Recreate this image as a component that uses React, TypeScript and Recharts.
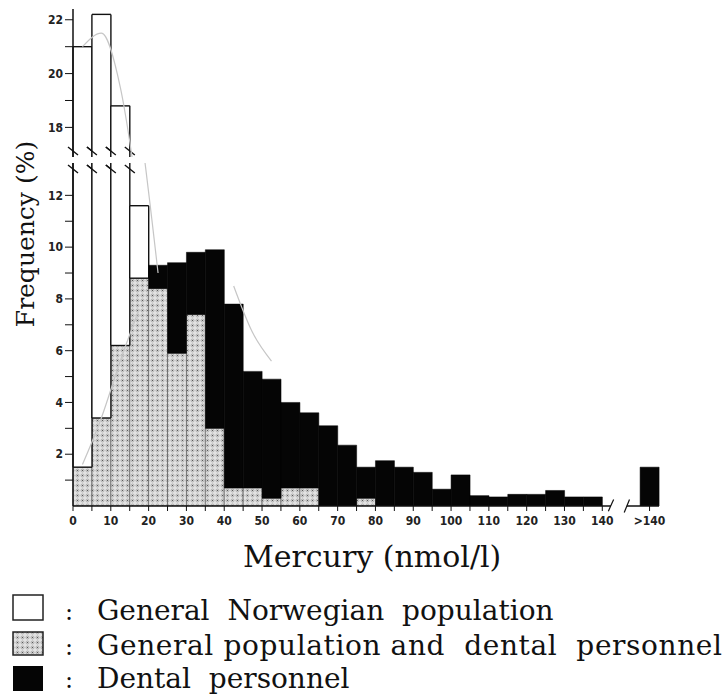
import { Bar, ComposedChart, Line, ReferenceLine, XAxis, YAxis } from 'recharts';

// bin centres (nmol/l), 5-wide bins from 0 to 140, then the ">140" bin
const binMid = [
  2.5, 7.5, 12.5, 17.5, 22.5, 27.5, 32.5, 37.5, 42.5, 47.5, 52.5, 57.5, 62.5, 67.5, 72.5,
  77.5, 82.5, 87.5, 92.5, 97.5, 102.5, 107.5, 112.5, 117.5, 122.5, 127.5, 132.5, 137.5, 152.5,
];

// frequency (%) per bin
const generalPop = [
  21.0, 22.2, 18.8, 11.6, 8.4, 5.9, 7.4, 3.0, 0.7, 0.7, 0.3, 0.7, 0.7, 0, 0,
  0.3, 0, 0, 0, 0, 0, 0, 0, 0, 0, 0, 0, 0, 0,
];
const dentalStaff = [
  1.5, 3.4, 6.2, 8.8, 9.3, 9.4, 9.8, 9.9, 7.8, 5.2, 4.9, 4.0, 3.6, 3.1, 2.35,
  1.5, 1.75, 1.5, 1.3, 0.65, 1.2, 0.4, 0.35, 0.45, 0.45, 0.6, 0.35, 0.35, 1.5,
];

// faint fitted curves, only where they show in the figure
const generalCurve = [
  21.0, 21.5, 19.5, 15.0, 9.0, null, null, null, null, null, null, null, null, null, null,
  null, null, null, null, null, null, null, null, null, null, null, null, null, null,
];
const dentalCurve = [
  1.6, 3.4, 5.6, 7.6, null, null, null, null, 8.5, 6.7, 5.6, null, null, null, null,
  null, null, null, null, null, null, null, null, null, null, null, null, null, null,
];

const xTicks = [
  0, 5, 10, 15, 20, 25, 30, 35, 40, 45, 50, 55, 60, 65, 70, 75, 80, 85, 90, 95, 100,
  105, 110, 115, 120, 125, 130, 135, 140, 152.5,
];
const upperTicks = [18, 19, 20, 21, 22];
const lowerTicks = [1, 2, 3, 4, 5, 6, 7, 8, 9, 10, 11, 12];

const data = binMid.map((x, i) => {
  const g = generalPop[i];
  const d = dentalStaff[i];
  return {
    x,
    both: Math.min(g, d),
    genOnly: Math.max(0, g - d),
    dentOnly: Math.max(0, d - g),
    genCurve: generalCurve[i],
    dentCurve: dentalCurve[i],
  };
});

const W = 726;
const margin = { left: 33, right: 67 };
const tickFont = {
  fontSize: 12,
  fontFamily: '"DejaVu Sans Condensed", "Liberation Sans Narrow", "DejaVu Sans", sans-serif',
  fontWeight: 700,
  fill: '#222',
};
const serif = '"DejaVu Serif", serif';
const ink = '#111';

// white bar; where it runs out of the panel the end is left open and "\" break marks are drawn
const makeWhiteBar = (plotTop: number, plotBottom: number) => (props: any) => {
  const { x, y, width, height } = props;
  if (!height || height <= 0) return <g />;
  const cutTop = y <= plotTop + 0.5;
  const cutBottom = y + height >= plotBottom - 0.5;
  const right = x + width;
  const bottom = y + height;
  const marks: React.ReactNode[] = [];
  [x, right].forEach((ex, k) => {
    if (cutTop)
      marks.push(<line key={'t' + k} x1={ex - 5} y1={plotTop + 2} x2={ex + 5} y2={plotTop + 10} stroke={ink} strokeWidth={1.4} />);
    if (cutBottom)
      marks.push(<line key={'b' + k} x1={ex - 5} y1={plotBottom - 10} x2={ex + 5} y2={plotBottom - 2} stroke={ink} strokeWidth={1.4} />);
  });
  return (
    <g>
      <rect x={x} y={y} width={width} height={height} fill="#fff" />
      <line x1={x} y1={y} x2={x} y2={bottom} stroke={ink} strokeWidth={1.4} />
      <line x1={right} y1={y} x2={right} y2={bottom} stroke={ink} strokeWidth={1.4} />
      {!cutTop && <line x1={x} y1={y} x2={right} y2={y} stroke={ink} strokeWidth={1.4} />}
      {!cutBottom && <line x1={x} y1={bottom} x2={right} y2={bottom} stroke={ink} strokeWidth={1.4} />}
      {marks}
    </g>
  );
};

const Series = (plotTop: number, plotBottom: number) => [
  <Bar key="both" dataKey="both" stackId="a" fill="url(#dots)" stroke="#666" strokeWidth={0.8} isAnimationActive={false} />,
  <Bar key="gen" dataKey="genOnly" stackId="a" shape={makeWhiteBar(plotTop, plotBottom)} isAnimationActive={false} />,
  <Bar key="dent" dataKey="dentOnly" stackId="a" fill="#050505" stroke="#050505" strokeWidth={0.5} isAnimationActive={false} />,
  <Line key="gc" dataKey="genCurve" type="monotone" stroke="#c6c6c6" strokeWidth={1.2} dot={false} activeDot={false} isAnimationActive={false} />,
  <Line key="dc" dataKey="dentCurve" type="monotone" stroke="#c6c6c6" strokeWidth={1.2} dot={false} activeDot={false} isAnimationActive={false} />,
];

export default function App() {
  const upperH = 157;
  const lowerTop = 163;
  const lowerH = 377;
  return (
    <div style={{ position: 'absolute', left: 0, top: 0, width: W, height: 695, background: '#fff' }}>
      <svg width={0} height={0} style={{ position: 'absolute' }}>
        <defs>
          <pattern id="dots" width="5" height="5" patternUnits="userSpaceOnUse">
            <rect width="5" height="5" fill="#e2e2e2" />
            <circle cx="2.5" cy="2.5" r="1.5" fill="none" stroke="#8c8c8c" strokeWidth="0.6" />
            <circle cx="2.5" cy="2.5" r="0.6" fill="#444" />
          </pattern>
        </defs>
      </svg>

      {/* upper panel, 17-22 % */}
      <div style={{ position: 'absolute', left: 0, top: 0 }}>
        <ComposedChart width={W} height={upperH} data={data} barCategoryGap={0} margin={{ top: 9, bottom: 0, ...margin }}>
          <XAxis dataKey="x" type="number" domain={[0, 155]} hide />
          <YAxis
            type="number"
            domain={[16.9, 22.4]}
            allowDataOverflow
            ticks={upperTicks}
            interval={0}
            width={40}
            tickSize={8}
            tickMargin={2}
            tick={tickFont}
            tickFormatter={(v: number) => (v % 2 === 0 ? String(v) : '')}
            axisLine={{ stroke: ink, strokeWidth: 1.5 }}
            tickLine={{ stroke: ink }}
          />
          {Series(9, upperH)}
        </ComposedChart>
      </div>

      {/* lower panel, 0-13 % */}
      <div style={{ position: 'absolute', left: 0, top: lowerTop }}>
        <ComposedChart width={W} height={lowerH} data={data} barCategoryGap={0} margin={{ top: 0, bottom: 4, ...margin }}>
          <XAxis
            dataKey="x"
            type="number"
            domain={[0, 155]}
            ticks={xTicks}
            interval={0}
            height={30}
            tickSize={5}
            tickMargin={5}
            tick={tickFont}
            tickFormatter={(v: number) => (v === 152.5 ? '>140' : v % 10 === 0 ? String(v) : '')}
            axisLine={false}
            tickLine={{ stroke: ink }}
          />
          <YAxis
            type="number"
            domain={[0, 13.25]}
            allowDataOverflow
            ticks={lowerTicks}
            interval={0}
            width={40}
            tickSize={8}
            tickMargin={2}
            tick={tickFont}
            tickFormatter={(v: number) => (v % 2 === 0 ? String(v) : '')}
            axisLine={{ stroke: ink, strokeWidth: 1.5 }}
            tickLine={{ stroke: ink }}
          />
          {Series(0, 343)}
          <ReferenceLine segment={[{ x: 0, y: 0 }, { x: 142.3, y: 0 }]} stroke={ink} strokeWidth={1.5} ifOverflow="visible" />
          <ReferenceLine segment={[{ x: 146.5, y: 0 }, { x: 155, y: 0 }]} stroke={ink} strokeWidth={1.5} ifOverflow="visible" />
          <ReferenceLine segment={[{ x: 141.6, y: -0.2 }, { x: 143.0, y: 0.25 }]} stroke={ink} strokeWidth={1.2} ifOverflow="visible" />
          <ReferenceLine segment={[{ x: 145.8, y: -0.25 }, { x: 147.2, y: 0.25 }]} stroke={ink} strokeWidth={1.2} ifOverflow="visible" />
        </ComposedChart>
      </div>

      {/* titles and legend */}
      <svg width={W} height={695} style={{ position: 'absolute', left: 0, top: 0, pointerEvents: 'none' }}>
        <text
          x={0}
          y={0}
          transform="translate(34 234) rotate(-90)"
          textAnchor="middle"
          fontFamily={serif}
          fontSize={25}
          fill={ink}
        >
          Frequency (%)
        </text>
        <text x={243} y={567} fontFamily={serif} fontSize={30} fill={ink}>
          Mercury (nmol/l)
        </text>

        <rect x={13} y={595} width={30} height={25} fill="#fff" stroke="#222" strokeWidth={1.5} />
        <rect x={13} y={632} width={30} height={23} fill="url(#dots)" stroke="#222" strokeWidth={1.5} />
        <rect x={13} y={666} width={30} height={25} fill="#050505" />
        {[620, 655, 688].map((y) => (
          <text key={y} x={65} y={y} fontFamily={serif} fontSize={24} fill={ink}>
            :
          </text>
        ))}
        <text x={97} y={620} fontFamily={serif} fontSize={28} fill={ink} style={{ whiteSpace: 'pre' }}>
          {'General  Norwegian  population'}
        </text>
        <text x={97} y={655} fontFamily={serif} fontSize={28} fill={ink} textLength={625} lengthAdjust="spacing" style={{ whiteSpace: 'pre' }}>
          {'General population and  dental  personnel'}
        </text>
        <text x={97} y={688} fontFamily={serif} fontSize={28} fill={ink} style={{ whiteSpace: 'pre' }}>
          {'Dental  personnel'}
        </text>
      </svg>
    </div>
  );
}
